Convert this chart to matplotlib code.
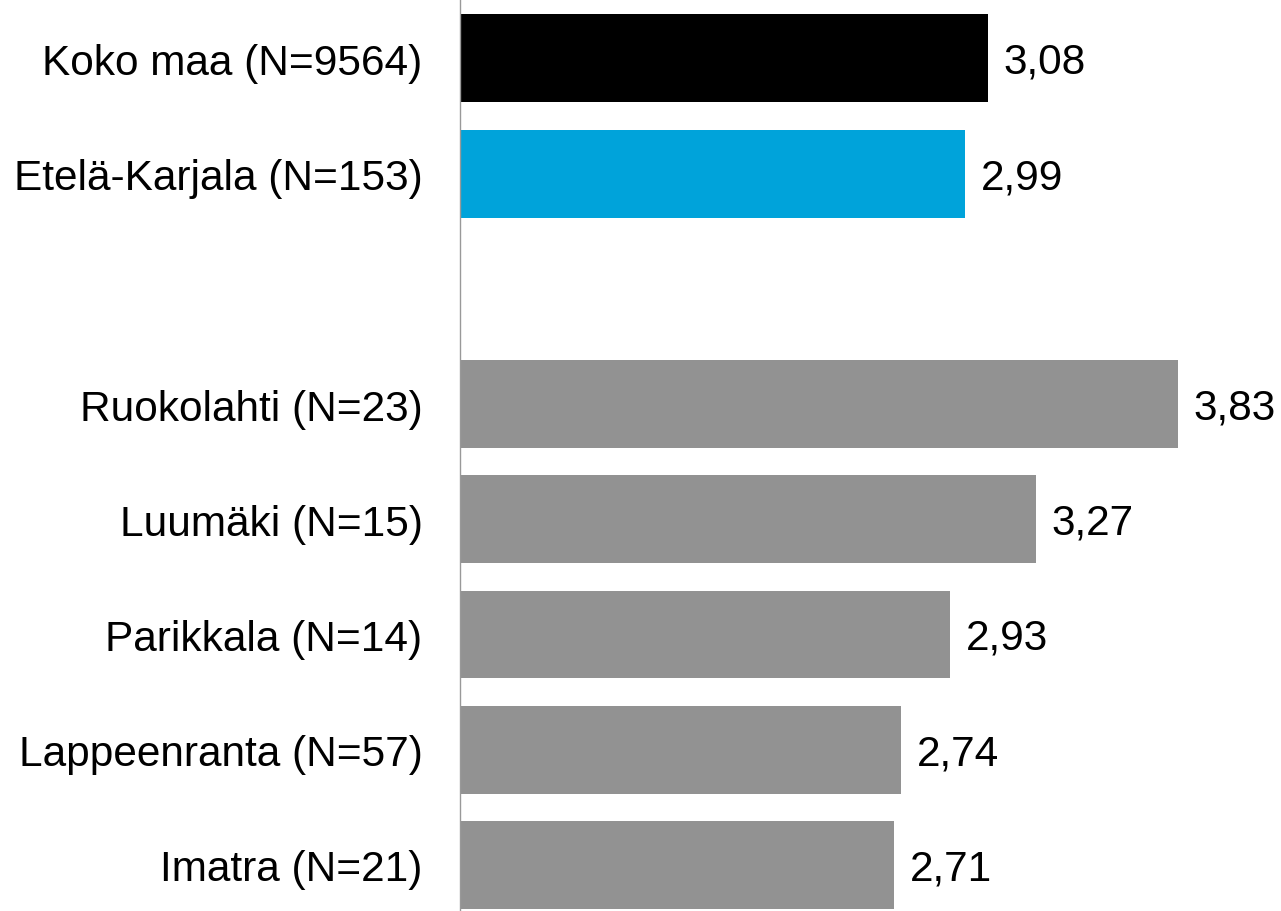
import matplotlib
matplotlib.use("Agg")
import matplotlib.pyplot as plt

categories = ["Koko maa (N=9564)", "Etelä-Karjala (N=153)", "",
              "Ruokolahti (N=23)", "Luumäki (N=15)", "Parikkala (N=14)",
              "Lappeenranta (N=57)", "Imatra (N=21)"]
values = [3.08, 2.99, None, 3.83, 3.27, 2.93, 2.74, 2.71]
colors = ["#000000", "#00A3DA", None, "#929292", "#929292", "#929292", "#929292", "#929292"]

plt.rcParams['font.family'] = ['Liberation Sans', 'DejaVu Sans']

fig = plt.figure(figsize=(12.81, 9.12), dpi=100)
ax = fig.add_axes([460/1281, 0, (1221-460)/1281, 1])

pos = list(range(len(categories)))
for p, v, c in zip(pos, values, colors):
    if v is None:
        continue
    ax.barh(p, v - 1, left=1, height=0.763, color=c)
    ax.annotate(f"{v:.2f}".replace('.', ','), xy=(v, p), xytext=(11.5, -2.5),
                textcoords='offset points', va='center', ha='left', fontsize=30.5)

ax.set_xlim(1, 4)
ax.set_ylim(7.40, -0.515)
ax.set_yticks([p for p, v in zip(pos, values) if v is not None])
ax.set_yticklabels([c for c, v in zip(categories, values) if v is not None], fontsize=30.5)
ax.tick_params(axis='y', length=0, pad=27)
ax.set_xticks([])
for s in ['top', 'right', 'bottom']:
    ax.spines[s].set_visible(False)
ax.spines['left'].set_color('#999999')
ax.spines['left'].set_linewidth(1.0)

fig.savefig("out.png", dpi=100)
